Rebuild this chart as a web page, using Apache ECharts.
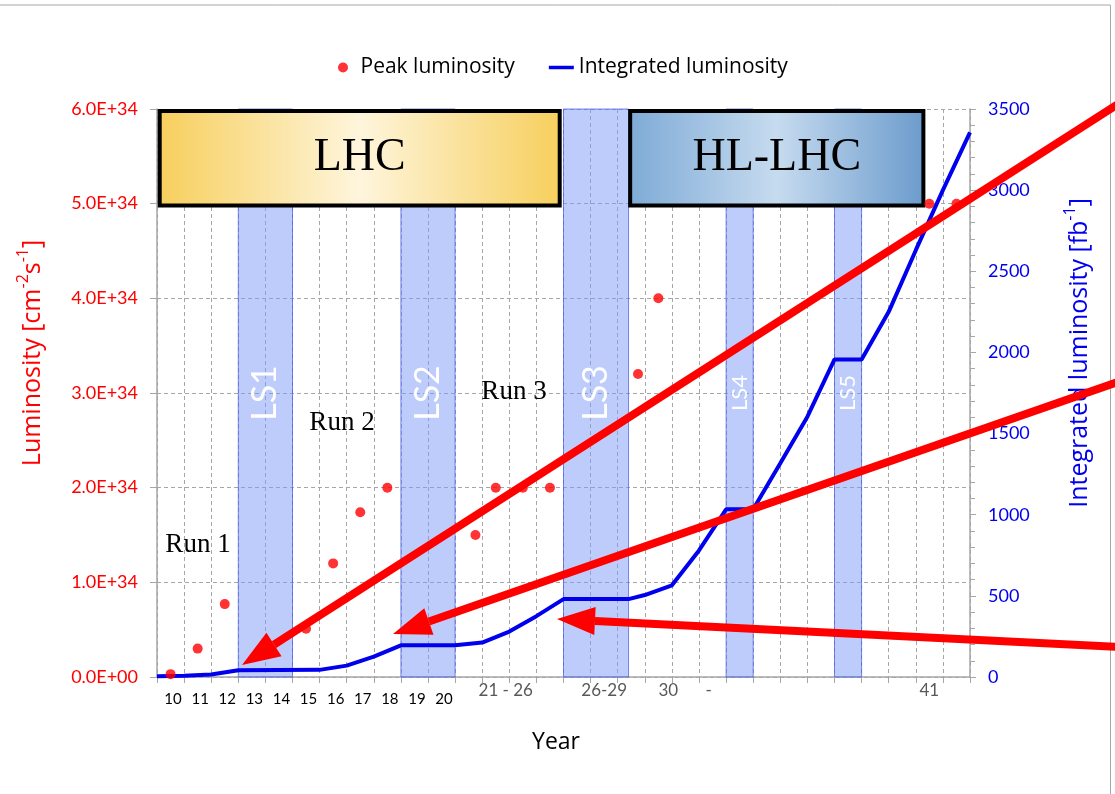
<!DOCTYPE html>
<html>
<head>
<meta charset="utf-8">
<script src="https://cdn.jsdelivr.net/npm/echarts@6/dist/echarts.min.js"></script>
<style>
  html, body { margin: 0; padding: 0; background: #fff; }
  #chart { width: 1115px; height: 794px; }
</style>
</head>
<body>
<div id="chart"></div>
<script>
// labels under each year slot (30 slots)
const yearLabels = ['10', '11', '12', '13', '14', '15', '16', '17', '18', '19', '20',
  '', '21 - 26', '', '', '', '26-29', '', '30', '', '-', '', '', '', '', '', '', '', '41', ''];

// peak luminosity, slot position and value in units of 1E+34
const peakX = [0.5, 1.5, 2.5, 5.5, 6.5, 7.5, 8.5, 11.75, 12.5, 13.5, 14.5, 17.75, 18.5, 28.5, 29.5];
const peakLumi = [0.03, 0.30, 0.77, 0.51, 1.20, 1.74, 2.00, 1.50, 2.00, 2.00, 2.00, 3.20, 4.00, 5.00, 5.00];

// integrated luminosity [fb-1]
const intX = [0, 1, 2, 3, 6, 7, 8, 9, 11, 12, 13, 14, 15, 17.4, 18, 19, 20, 21, 22, 23, 24, 25, 26, 27, 28, 29, 30];
const intLumi = [5, 8, 15, 42, 44, 70, 125, 195, 195, 212, 280, 375, 480, 480, 505, 565, 780, 1033, 1033,
  1317, 1604, 1957, 1957, 2250, 2630, 3000, 3356];

// long shutdowns
const shutdowns = ['LS1', 'LS2', 'LS3', 'LS4', 'LS5'];
const shutdownStart = [3, 9, 15, 21, 25];
const shutdownEnd = [5, 11, 17.4, 22, 26];

// machine phases (boxes on top)
const phases = ['LHC', 'HL-LHC'];
const phaseStart = [0.1, 17.46];
const phaseEnd = [14.86, 28.28];

const sans = 'Lato';
const wide = 'Open Sans';
const serif = 'Liberation Serif';
const red = '#ff0000';
const blue = '#0000ee';
const gridGrey = '#a6a6a6';

const chart = echarts.init(document.getElementById('chart'));

function arrow(tail, tip) {
  const dx = tail[0] - tip[0], dy = tail[1] - tip[1];
  const len = Math.hypot(dx, dy);
  const ux = dx / len, uy = dy / len;
  const L = 38, W = 14;
  const bx = tip[0] + ux * L, by = tip[1] + uy * L;
  return [
    { type: 'line', z: 50, shape: { x1: tail[0], y1: tail[1], x2: bx, y2: by },
      style: { stroke: red, lineWidth: 8 } },
    { type: 'polygon', z: 50, shape: { points: [tip, [bx - uy * W, by + ux * W], [bx + uy * W, by - ux * W]] },
      style: { fill: red } }
  ];
}

function runLabel(text, x, y) {
  return { type: 'text', z: 40, x: x, y: y,
    style: { text: text, font: '27px "' + serif + '"', fill: '#000', align: 'center', verticalAlign: 'middle' } };
}

const phaseColors = [
  ['#f7cf5c', '#fef5dc', '#f7cf5c'],
  ['#7eaad6', '#c6dbef', '#6b9bcc']
];

function nameRich(color) {
  return {
    n: { fontSize: 25, fontFamily: wide, color: color, lineHeight: 30, verticalAlign: 'bottom' },
    s: { fontSize: 16, fontFamily: wide, color: color, lineHeight: 16, verticalAlign: 'top' }
  };
}

chart.setOption({
  animation: false,
  grid: { left: 157, right: 145, top: 109, bottom: 117 },
  legend: {
    top: 52, left: 333, itemGap: 34, itemWidth: 25, itemHeight: 10,
    textStyle: { fontSize: 21, fontFamily: wide, color: '#000' },
    data: [
      { name: 'Peak luminosity', icon: 'circle' },
      { name: 'Integrated luminosity', icon: 'path://M0,0 L25,0 L25,3.5 L0,3.5 Z' }
    ]
  },
  xAxis: [{
    type: 'value', min: 0, max: 30, interval: 1,
    axisLine: { lineStyle: { color: gridGrey, width: 1.5 } },
    axisTick: { length: 6, lineStyle: { color: gridGrey } },
    axisLabel: { show: false },
    splitLine: { lineStyle: { color: gridGrey, type: [4, 3] } }
  }, {
    type: 'category', data: yearLabels, position: 'bottom',
    axisLine: { show: false }, axisTick: { show: false },
    axisLabel: {
      interval: 0, margin: 5,
      formatter: function (v, i) {
        if (!v) return '';
        if (i <= 10) return '{b|' + v + '}';
        if (v === '21 - 26' || v === '30') return '{gr|' + v + '}';
        if (v === '-') return '{gl|' + v + '}';
        return '{g|' + v + '}';
      },
      rich: {
        b: { fontSize: 15, fontFamily: sans, color: '#000', padding: [10, 0, 0, 5] },
        g: { fontSize: 17, fontFamily: sans, color: '#595959' },
        gr: { fontSize: 17, fontFamily: sans, color: '#595959', padding: [0, 0, 0, 20] },
        gl: { fontSize: 17, fontFamily: sans, color: '#595959', padding: [0, 8, 0, 0] }
      }
    },
    name: 'Year', nameLocation: 'middle', nameGap: 54,
    nameTextStyle: { fontSize: 23, fontFamily: wide, color: '#000', padding: [0, 15, 0, 0] }
  }],
  yAxis: [{
    type: 'value', min: 0, max: 6e34, interval: 1e34, position: 'left',
    axisLine: { show: true, lineStyle: { color: gridGrey, width: 1.5 } },
    axisTick: { show: true, length: 7, lineStyle: { color: gridGrey } },
    axisLabel: {
      margin: 19, color: red, fontSize: 18, fontFamily: sans,
      formatter: function (v) { return v === 0 ? '0.0E+00' : (v / 1e34).toFixed(1) + 'E+34'; }
    },
    splitLine: { lineStyle: { color: gridGrey, type: [4, 3] } },
    name: '{n|Luminosity [cm}{s|-2}{n|s}{s|-1}{n|]}',
    nameLocation: 'middle', nameRotate: 90, nameGap: 112,
    nameTextStyle: { padding: [0, 0, 0, 80], rich: nameRich(red) }
  }, {
    type: 'value', min: 0, max: 3500, interval: 500, position: 'right',
    axisLine: { show: true, lineStyle: { color: gridGrey, width: 1.5 } },
    axisTick: { show: true, length: 6, lineStyle: { color: gridGrey } },
    minorTick: { show: true, splitNumber: 5, length: 5, lineStyle: { color: gridGrey } },
    axisLabel: { margin: 18, color: blue, fontSize: 18, fontFamily: sans,
      formatter: function (v) { return String(v); } },
    splitLine: { show: false },
    name: '{n|Integrated luminosity [fb}{s|-1}{n|]}',
    nameLocation: 'middle', nameRotate: 90, nameGap: 92,
    nameTextStyle: { padding: [0, 0, 0, 80], rich: nameRich(blue) }
  }],
  series: [{
    name: 'shutdowns', type: 'line', data: [], z: 1, silent: true,
    markArea: {
      silent: true,
      itemStyle: { color: 'rgba(123,153,245,0.5)', borderColor: 'rgba(70,90,230,0.7)', borderWidth: 1 },
      data: shutdowns.map(function (s, i) {
        return [{
          name: s, xAxis: shutdownStart[i], yAxis: 0,
          label: { show: true, position: 'inside', rotate: 90, color: '#fff',
            fontFamily: sans, fontSize: i < 3 ? 34 : 22 }
        }, { xAxis: shutdownEnd[i], yAxis: 6e34 }];
      })
    }
  }, {
    name: 'phases', type: 'line', data: [], z: 3, silent: true,
    markArea: {
      silent: true,
      data: phases.map(function (p, i) {
        const c = phaseColors[i];
        return [{
          name: p, xAxis: phaseStart[i], yAxis: 4.98e34,
          itemStyle: {
            color: new echarts.graphic.LinearGradient(0, 0, 1, 0, [
              { offset: 0, color: c[0] }, { offset: 0.5, color: c[1] }, { offset: 1, color: c[2] }
            ]),
            borderColor: '#000', borderWidth: 4, opacity: 1
          },
          label: { show: true, position: 'inside', color: '#000', fontFamily: serif, fontSize: 46 }
        }, { xAxis: phaseEnd[i], yAxis: 5.98e34 }];
      })
    }
  }, {
    name: 'Peak luminosity', type: 'scatter', z: 5,
    symbolSize: 10, itemStyle: { color: red },
    data: peakX.map(function (x, i) { return [x, peakLumi[i] * 1e34]; })
  }, {
    name: 'Integrated luminosity', type: 'line', yAxisIndex: 1, z: 4,
    symbol: 'none', lineStyle: { color: blue, width: 4 }, itemStyle: { color: blue },
    data: intX.map(function (x, i) { return [x, intLumi[i]]; })
  }],
  graphic: [
    { type: 'rect', z: 0, shape: { x: -10, y: 5, width: 1120.5, height: 800 },
      style: { fill: 'none', stroke: '#a6a6a6', lineWidth: 1 } },
    runLabel('Run 1', 198, 545),
    runLabel('Run 2', 342, 423),
    runLabel('Run 3', 514, 392)
  ].concat(
    arrow([1118, 104], [242, 665]),
    arrow([1118, 382], [393, 634]),
    arrow([1118, 647], [557, 619])
  )
});
</script>
</body>
</html>
